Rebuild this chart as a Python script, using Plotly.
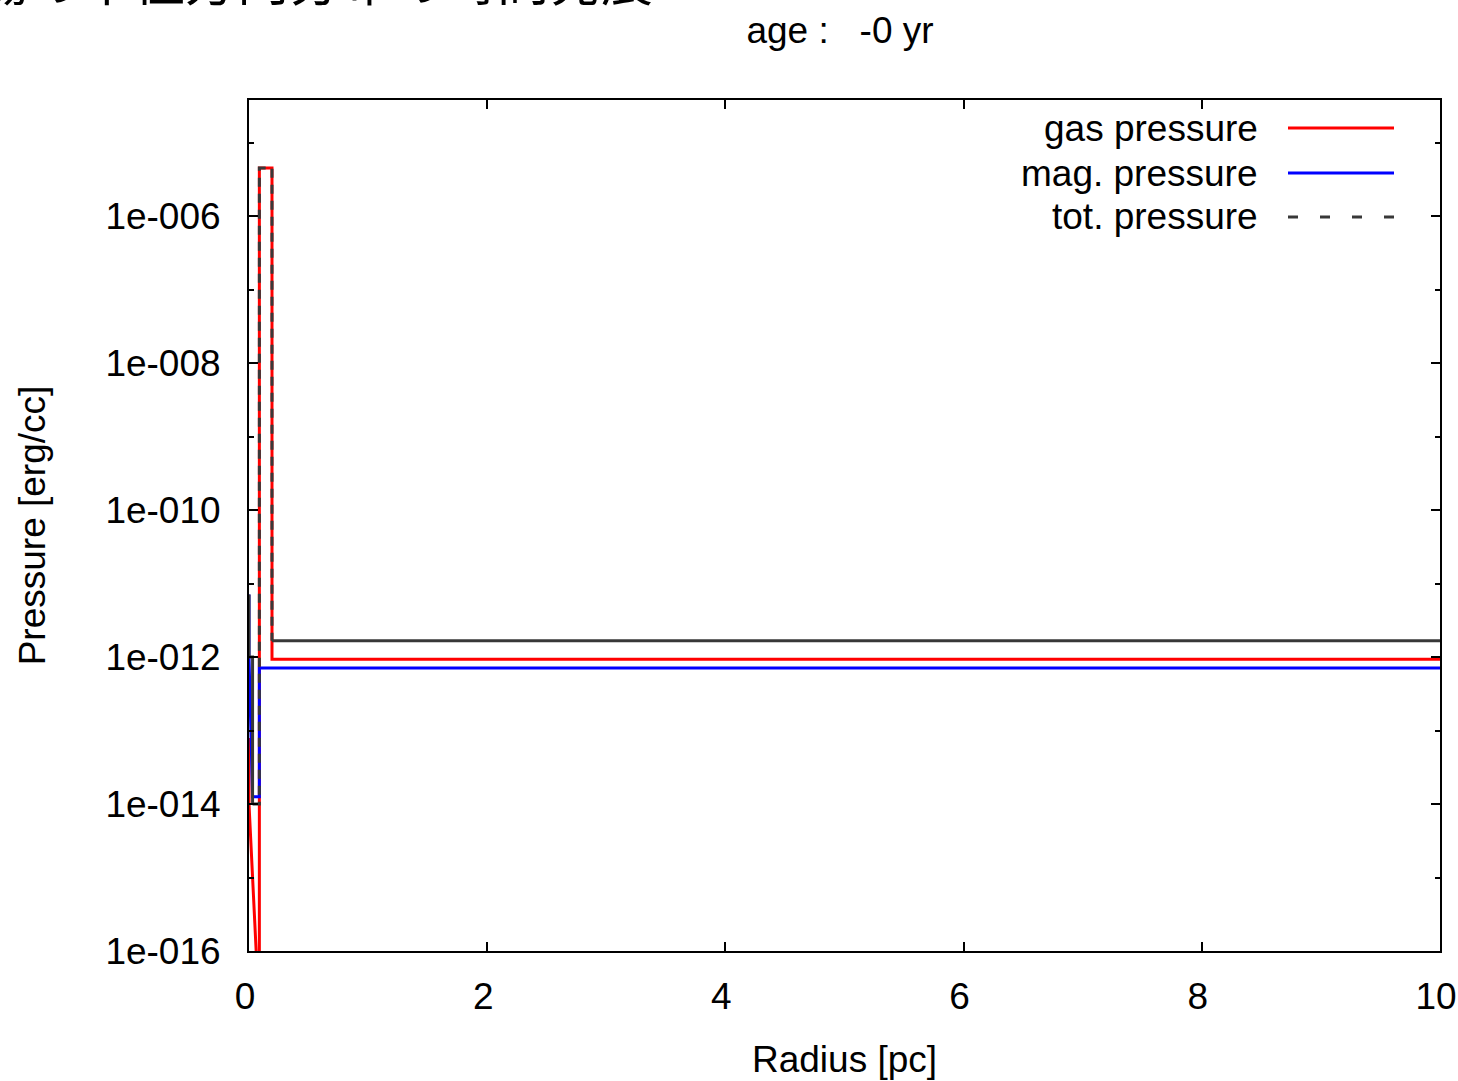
import plotly.graph_objects as go

# ---- data (radius in pc, pressure in erg/cc) ----
gas_r = [0.0, 0.0, 0.075, 0.087, 0.087, 0.193, 0.193, 10.0]
gas_p = [7.9e-14, 1.0e-14, 3.2e-17, 3.2e-17, 4.5e-6, 4.5e-6, 9.3e-13, 9.3e-13]

mag_r = [0.0, 0.0, 0.03, 0.087, 0.087, 10.0]
mag_p = [7.1e-12, 1.0e-12, 1.26e-14, 1.26e-14, 7.1e-13, 7.1e-13]

tot_r = [0.0, 0.0, 0.03, 0.03, 0.087, 0.087, 0.193, 0.193, 10.0]
tot_p = [7.1e-12, 1.0e-12, 1.0e-12, 1.0e-14, 1.0e-14, 4.5e-6, 4.5e-6, 1.66e-12, 1.66e-12]

x_ticks = [0, 2, 4, 6, 8, 10]
y_ticks = [1e-6, 1e-8, 1e-10, 1e-12, 1e-14, 1e-16]
y_ticktext = ["1e-006", "1e-008", "1e-010", "1e-012", "1e-014", "1e-016"]
y_minor = [1e-5, 1e-7, 1e-9, 1e-11, 1e-13, 1e-15]

legend_names = ["gas pressure", "mag. pressure", "tot. pressure"]

RED = "#ff0000"
BLUE = "#0000ff"
DARK = "#383838"
FONT = "Liberation Sans, Arial, sans-serif"
FS = 37

W, H = 1458, 1081
L, R, T, B = 249, 18, 100, 130
PW, PH = W - L - R, H - T - B


def px(x):
    return (x - L) / PW


def py(y):
    return 1 - (y - T) / PH


fig = go.Figure()
fig.add_trace(go.Scatter(x=gas_r, y=gas_p, mode="lines",
                         line=dict(color=RED, width=3), showlegend=False))
fig.add_trace(go.Scatter(x=mag_r, y=mag_p, mode="lines",
                         line=dict(color=BLUE, width=3), showlegend=False))
# total pressure: solid pieces and dashed spike
fig.add_trace(go.Scatter(x=tot_r[0:4], y=tot_p[0:4], mode="lines",
                         line=dict(color=DARK, width=3), showlegend=False))
fig.add_trace(go.Scatter(x=tot_r[3:8], y=tot_p[3:8], mode="lines",
                         line=dict(color=DARK, width=3, dash="9px,7px"),
                         showlegend=False))
fig.add_trace(go.Scatter(x=tot_r[7:9], y=tot_p[7:9], mode="lines",
                         line=dict(color=DARK, width=3), showlegend=False))

# manual legend (text on the left, sample line on the right)
leg_rows = [128, 173, 217]
leg_styles = [dict(color=RED, width=3), dict(color=BLUE, width=3),
              dict(color=DARK, width=3, dash="10px,22px")]
for name, yrow, st in zip(legend_names, leg_rows, leg_styles):
    fig.add_annotation(x=px(1260), y=py(yrow), xref="paper", yref="paper",
                       text=name, showarrow=False, xanchor="right", yanchor="middle",
                       font=dict(family=FONT, size=FS, color="#000000"))
    fig.add_shape(type="line", xref="paper", yref="paper",
                  x0=px(1288), x1=px(1394), y0=py(yrow), y1=py(yrow), line=st)

# cut-off heading at the top-left (only the bottom of the glyphs is visible)
fig.add_annotation(x=px(655), y=py(18), xref="paper", yref="paper",
                   text="磁場の半径方向分布の時間発展", showarrow=False,
                   xanchor="right", yanchor="bottom",
                   font=dict(family="Noto Sans CJK JP", size=52, color="#000000"))

fig.update_layout(
    width=W, height=H,
    margin=dict(l=L, r=R, t=T, b=B),
    paper_bgcolor="white", plot_bgcolor="white",
    showlegend=False,
    font=dict(family=FONT, size=FS, color="#000000"),
    title=dict(text="age :\u00a0\u00a0\u00a0-0 yr", x=px(840), xref="paper",
               y=1 - 30 / H, yanchor="middle", xanchor="center",
               font=dict(family=FONT, size=FS, color="#000000")),
)
fig.update_xaxes(
    range=[0, 10], tickvals=x_ticks, ticktext=[str(v) for v in x_ticks],
    showline=True, linecolor="#000000", linewidth=2, mirror="ticks",
    ticks="inside", ticklen=9, tickwidth=1.5, tickcolor="#000000",
    showgrid=False, zeroline=False, ticklabelstandoff=12, ticklabelshift=-4,
    ticklabeloverflow="allow", automargin=False,
    tickfont=dict(family=FONT, size=FS),
    title=dict(text="Radius [pc]", font=dict(family=FONT, size=FS), standoff=30),
)
fig.update_yaxes(
    type="log", range=[-16, -4.42], tickvals=y_ticks, ticktext=y_ticktext,
    showline=True, linecolor="#000000", linewidth=2, mirror="ticks",
    ticks="inside", ticklen=9, tickwidth=1.5, tickcolor="#000000",
    minor=dict(tickvals=y_minor, ticks="inside", ticklen=5, tickcolor="#000000", tickwidth=1.5),
    showgrid=False, zeroline=False, ticklabelstandoff=19,
    ticklabeloverflow="allow", automargin=False,
    tickfont=dict(family=FONT, size=FS),
    title=dict(text="Pressure [erg/cc]", font=dict(family=FONT, size=FS), standoff=48),
)

fig.write_html("out.html")
